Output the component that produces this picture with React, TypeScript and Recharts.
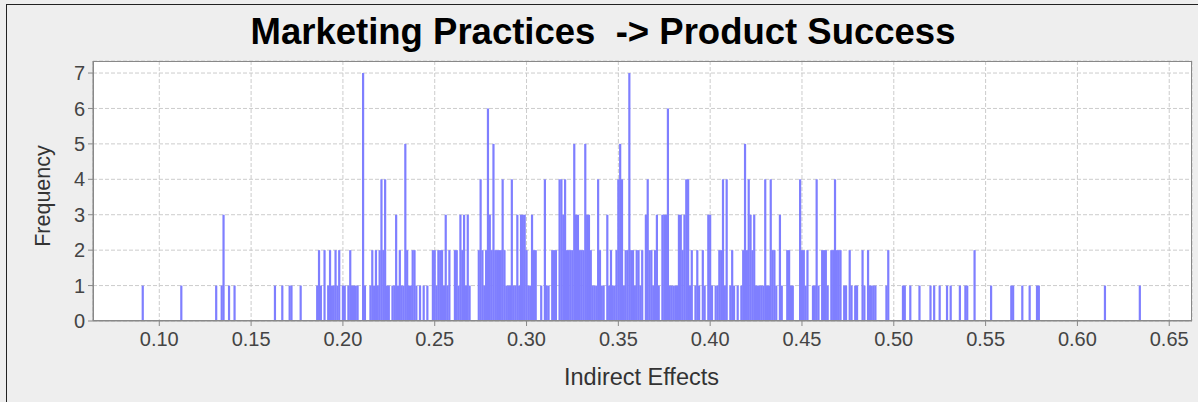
import React from 'react';
import { BarChart, Bar, XAxis, YAxis, CartesianGrid } from 'recharts';

const chartTitle = 'Marketing Practices  -> Product Success';
const xLabel = 'Indirect Effects';
const yLabel = 'Frequency';

const xTicks = [0.1, 0.15, 0.2, 0.25, 0.3, 0.35, 0.4, 0.45, 0.5, 0.55, 0.6, 0.65];
const yTicks = [0, 1, 2, 3, 4, 5, 6, 7];

const effectBins = [
  0.091, 0.112, 0.131, 0.134, 0.135, 0.138, 0.141, 0.163, 0.167, 0.171, 0.172, 0.177,
  0.186, 0.187, 0.188, 0.190, 0.192, 0.193, 0.194, 0.195, 0.196, 0.197, 0.198, 0.200,
  0.201, 0.203, 0.204, 0.205, 0.206, 0.207, 0.208, 0.211, 0.212, 0.215, 0.216, 0.217,
  0.218, 0.219, 0.220, 0.221, 0.222, 0.223, 0.224, 0.225, 0.227, 0.228, 0.229, 0.230,
  0.231, 0.232, 0.233, 0.234, 0.235, 0.236, 0.237, 0.238, 0.239, 0.240, 0.242, 0.244,
  0.246, 0.249, 0.250, 0.251, 0.252, 0.253, 0.254, 0.255, 0.256, 0.257, 0.258, 0.261,
  0.262, 0.263, 0.264, 0.265, 0.266, 0.267, 0.268, 0.269, 0.274, 0.275, 0.276, 0.277,
  0.278, 0.279, 0.280, 0.281, 0.282, 0.283, 0.284, 0.285, 0.286, 0.287, 0.288, 0.289,
  0.290, 0.291, 0.292, 0.293, 0.294, 0.295, 0.296, 0.297, 0.298, 0.299, 0.300, 0.301,
  0.302, 0.303, 0.304, 0.305, 0.308, 0.310, 0.311, 0.312, 0.314, 0.315, 0.316, 0.318,
  0.319, 0.320, 0.321, 0.322, 0.323, 0.324, 0.325, 0.326, 0.327, 0.328, 0.329, 0.330,
  0.331, 0.332, 0.333, 0.334, 0.335, 0.336, 0.337, 0.338, 0.339, 0.340, 0.341, 0.342,
  0.344, 0.345, 0.346, 0.347, 0.348, 0.349, 0.350, 0.351, 0.352, 0.353, 0.354, 0.355,
  0.356, 0.357, 0.358, 0.359, 0.360, 0.361, 0.362, 0.363, 0.365, 0.366, 0.367, 0.368,
  0.369, 0.370, 0.371, 0.372, 0.374, 0.375, 0.376, 0.377, 0.378, 0.379, 0.380, 0.381,
  0.382, 0.383, 0.384, 0.385, 0.386, 0.387, 0.388, 0.389, 0.390, 0.392, 0.393, 0.394,
  0.396, 0.397, 0.399, 0.400, 0.401, 0.403, 0.404, 0.405, 0.406, 0.407, 0.408, 0.409,
  0.411, 0.412, 0.413, 0.415, 0.417, 0.418, 0.419, 0.420, 0.421, 0.422, 0.423, 0.424,
  0.425, 0.426, 0.427, 0.428, 0.429, 0.430, 0.431, 0.432, 0.433, 0.434, 0.435, 0.436,
  0.438, 0.439, 0.442, 0.443, 0.444, 0.445, 0.449, 0.450, 0.451, 0.452, 0.453, 0.456,
  0.457, 0.458, 0.459, 0.461, 0.462, 0.463, 0.464, 0.466, 0.467, 0.468, 0.469, 0.470,
  0.471, 0.473, 0.474, 0.476, 0.477, 0.479, 0.480, 0.483, 0.484, 0.486, 0.487, 0.488,
  0.489, 0.490, 0.496, 0.497, 0.505, 0.506, 0.509, 0.514, 0.520, 0.522, 0.525, 0.529,
  0.531, 0.536, 0.539, 0.540, 0.544, 0.553, 0.564, 0.565, 0.570, 0.574, 0.578, 0.579,
  0.615, 0.634,
];

const frequencies = [
  1, 1, 1, 1, 3, 1, 1, 1, 1, 1, 1, 1,
  1, 2, 1, 2, 1, 2, 1, 1, 2, 1, 2, 1,
  1, 1, 2, 1, 1, 1, 1, 7, 1, 1, 2, 1,
  2, 1, 2, 4, 2, 4, 1, 1, 1, 1, 3, 1,
  2, 1, 1, 5, 2, 1, 1, 2, 2, 1, 1, 1,
  1, 2, 2, 1, 2, 2, 2, 1, 3, 1, 2, 2,
  2, 1, 3, 2, 3, 1, 3, 1, 2, 4, 2, 1,
  2, 6, 3, 2, 5, 2, 2, 2, 2, 4, 2, 1,
  1, 1, 4, 1, 1, 3, 1, 3, 3, 3, 2, 1,
  1, 3, 2, 2, 1, 4, 1, 1, 2, 2, 2, 4,
  4, 3, 4, 2, 2, 2, 2, 5, 3, 3, 2, 2,
  2, 5, 3, 3, 2, 1, 1, 1, 4, 2, 1, 1,
  3, 1, 2, 1, 1, 2, 4, 5, 4, 1, 2, 2,
  7, 2, 2, 1, 2, 2, 1, 2, 3, 4, 2, 2,
  1, 2, 3, 1, 3, 3, 3, 6, 1, 1, 1, 1,
  1, 3, 3, 2, 3, 4, 4, 1, 2, 1, 2, 1,
  2, 1, 3, 3, 1, 1, 1, 2, 2, 4, 1, 4,
  1, 2, 1, 1, 1, 2, 5, 2, 4, 3, 2, 3,
  1, 1, 1, 1, 1, 4, 1, 1, 4, 2, 2, 1,
  3, 1, 2, 2, 1, 1, 4, 2, 2, 1, 2, 1,
  1, 4, 1, 2, 2, 2, 1, 2, 2, 4, 2, 2,
  2, 1, 1, 2, 1, 1, 1, 2, 1, 2, 1, 1,
  1, 1, 1, 2, 1, 1, 1, 1, 1, 1, 1, 1,
  1, 1, 1, 1, 2, 1, 1, 1, 1, 1, 1, 1,
  1, 1,
];

const data = effectBins.map((x, i) => ({ x, y: frequencies[i] }));

const FONT = '"Liberation Sans", Arial, sans-serif';
const BAR_COLOR = '#7f7fff';

const ThinBar = (props: any) => {
  const { x, y, width, height } = props;
  if (height == null || height <= 0) return null;
  const cx = x + width / 2;
  return <rect x={cx - 1.1} y={y} width={2.2} height={height} fill={BAR_COLOR} />;
};

export default function App() {
  return (
    <div
      style={{
        position: 'absolute',
        left: 0,
        top: 0,
        width: 1198,
        height: 402,
        overflow: 'hidden',
        background: '#eeeeee',
        fontFamily: FONT,
      }}
    >
      <div
        style={{
          position: 'absolute',
          left: 6,
          top: 4,
          width: 1400,
          height: 600,
          border: '1px solid #222',
        }}
      />
      <div
        style={{
          position: 'absolute',
          left: 4,
          top: 11,
          width: 1198,
          textAlign: 'center',
          fontSize: 36.5,
          fontWeight: 'bold',
          color: '#000',
          whiteSpace: 'pre',
          lineHeight: '42px',
        }}
      >
        {chartTitle}
      </div>
      <div style={{ position: 'absolute', left: 0, top: 0 }}>
        <BarChart
          width={1198}
          height={402}
          data={data}
          margin={{ top: 61, right: 6, bottom: 0, left: 0 }}
        >
          <CartesianGrid
            stroke="#cccccc"
            strokeDasharray="4 2"
            fill="#ffffff"
            fillOpacity={1}
          />
          <XAxis
            dataKey="x"
            type="number"
            domain={[0.0639, 0.6624]}
            allowDataOverflow
            ticks={xTicks}
            interval={0}
            tickFormatter={(v: number) => v.toFixed(2)}
            height={81}
            tickSize={5}
            tickMargin={6}
            axisLine={{ stroke: '#888888' }}
            tickLine={{ stroke: '#888888' }}
            tick={{ fill: '#444444', fontSize: 20, fontFamily: FONT }}
          />
          <YAxis
            type="number"
            domain={[0, 7.34]}
            allowDataOverflow
            ticks={yTicks}
            interval={0}
            width={93}
            tickSize={5}
            tickMargin={3}
            axisLine={{ stroke: '#888888' }}
            tickLine={{ stroke: '#888888' }}
            tick={{ fill: '#444444', fontSize: 20, fontFamily: FONT }}
          />
          <Bar
            dataKey="y"
            fill={BAR_COLOR}
            barSize={1.8}
            shape={ThinBar}
            isAnimationActive={false}
          />
        </BarChart>
      </div>
      <div
        style={{
          position: 'absolute',
          left: 93,
          top: 61,
          width: 1099,
          height: 260,
          boxSizing: 'border-box',
          border: '1px solid #888888',
          pointerEvents: 'none',
        }}
      />
      <div
        style={{
          position: 'absolute',
          left: 0,
          top: 363,
          width: 1283,
          textAlign: 'center',
          fontSize: 23.5,
          color: '#333333',
          lineHeight: '28px',
        }}
      >
        {xLabel}
      </div>
      <div
        style={{
          position: 'absolute',
          left: 43,
          top: 196,
          fontSize: 21.5,
          color: '#333333',
          lineHeight: '26px',
          whiteSpace: 'nowrap',
          transform: 'translate(-50%, -50%) rotate(-90deg)',
        }}
      >
        {yLabel}
      </div>
    </div>
  );
}
